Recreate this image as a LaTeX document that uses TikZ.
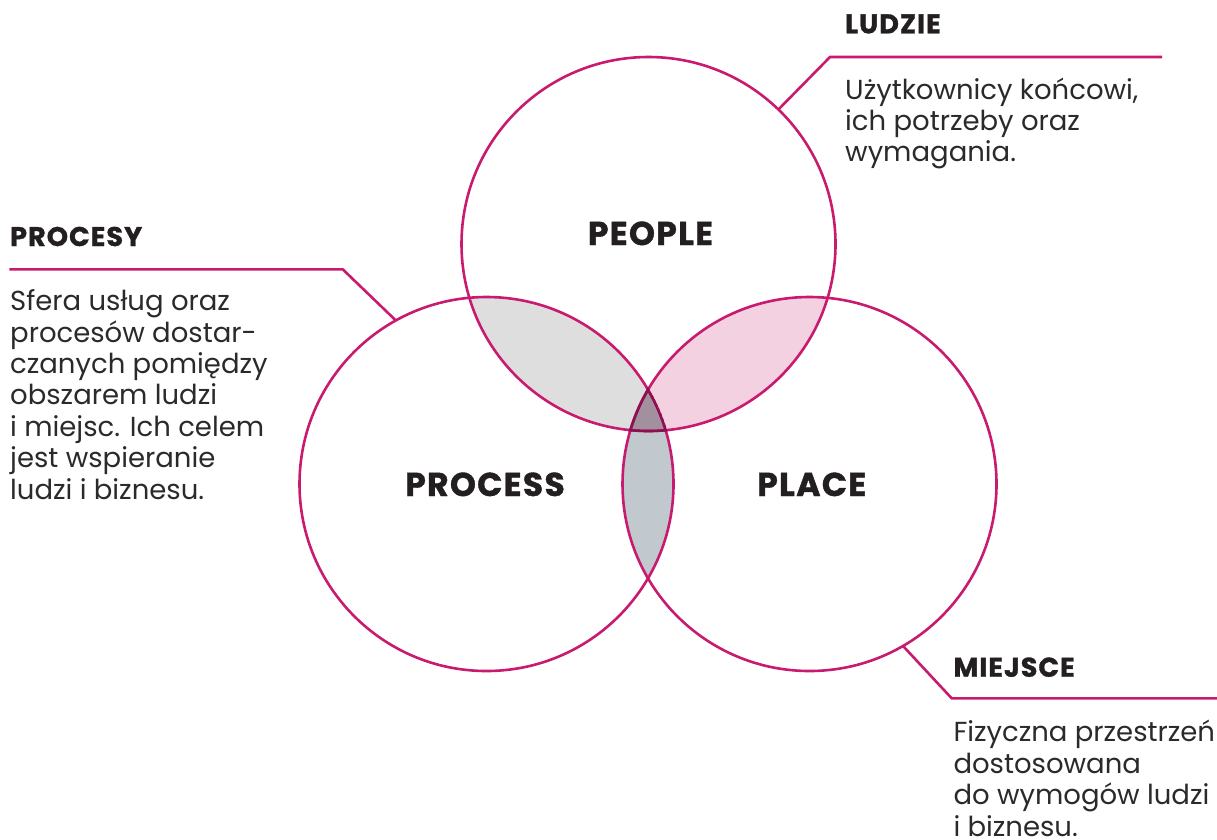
\documentclass[tikz,border=0pt]{standalone}
\usepackage{fontspec}
\setmainfont{Poppins}
\newfontfamily\heavyfont{Poppins}[BoldFeatures={FakeBold=1.2, LetterSpace=4}]
\definecolor{rim}{HTML}{C81A6E}
\definecolor{rimdark}{HTML}{8C1150}
\definecolor{inkdark}{HTML}{231F20}
\definecolor{inkbody}{HTML}{2B2A2A}
\definecolor{lensgray}{HTML}{DEDEDE}
\definecolor{lenspink}{HTML}{F3D1E0}
\definecolor{lensblue}{HTML}{C1C8CE}
\definecolor{lenscore}{HTML}{A2909E}
\begin{document}
\begin{tikzpicture}[x=1pt,y=-1pt,
  ring/.style={circle, draw=rim, line width=2.6pt, minimum size=374pt, inner sep=0pt, outer sep=0pt},
  leader/.style={draw=rim, line width=2.6pt},
  biglabel/.style={inner sep=0pt, anchor=base, text=inkdark, font=\fontsize{33}{33}\selectfont\heavyfont\bfseries},
  heading/.style={inner sep=0pt, anchor=base west, text=inkdark, font=\fontsize{27}{27}\selectfont\heavyfont\bfseries},
  bodyline/.style={inner sep=0pt, anchor=base west, text=inkbody, font=\fontsize{27.5}{27.5}\selectfont}]
\path[use as bounding box] (0,0) rectangle (1217,839);

% circle centres
\coordinate (cPeople) at (648.5,244);
\coordinate (cProcess) at (486.5,484);
\coordinate (cPlace) at (809.5,484);

% overlap fills
\begin{scope}
  \clip (cPeople) circle[radius=187pt];
  \fill[lensgray] (cProcess) circle[radius=187pt];
  \fill[lenspink] (cPlace) circle[radius=187pt];
\end{scope}
\begin{scope}
  \clip (cProcess) circle[radius=187pt];
  \fill[lensblue] (cPlace) circle[radius=187pt];
\end{scope}
\begin{scope}
  \clip (cPeople) circle[radius=187pt];
  \clip (cProcess) circle[radius=187pt];
  \fill[lenscore] (cPlace) circle[radius=187pt];
\end{scope}

% the three circles
\node[ring] (people) at (cPeople) {};
\node[ring] (process) at (cProcess) {};
\node[ring] (place) at (cPlace) {};

% darker rims inside the common core
\begin{scope}
  \clip (cPeople) circle[radius=188.3pt];
  \clip (cProcess) circle[radius=188.3pt];
  \clip (cPlace) circle[radius=188.3pt];
  \draw[rimdark, line width=2.6pt] (cPeople) circle[radius=187pt];
  \draw[rimdark, line width=2.6pt] (cProcess) circle[radius=187pt];
  \draw[rimdark, line width=2.6pt] (cPlace) circle[radius=187pt];
\end{scope}

% circle labels
\node[biglabel] (peopleLbl) at (650.5,245) {PEOPLE};
\node[biglabel] (processLbl) at (485,496) {PROCESS};
\node[biglabel] (placeLbl) at (811.7,496) {PLACE};

% leader lines
\coordinate (ludzieBend) at (830,57);
\coordinate (ludzieEnd) at (1162,57);
\draw[leader] (people.46.4) -- (ludzieBend) -- (ludzieEnd);

\coordinate (procesyBend) at (342.7,269.3);
\coordinate (procesyEnd) at (9.3,269.3);
\draw[leader] (process.119.6) -- (procesyBend) -- (procesyEnd);

\coordinate (miejsceBend) at (951.7,698.3);
\coordinate (miejsceEnd) at (1217,698.3);
\draw[leader] (place.-60.3) -- (miejsceBend) -- (miejsceEnd);

% LUDZIE
\node[heading] (ludzieHead) at (845,33.3) {LUDZIE};
\node[bodyline] (ludzie1) at (845,99.3) {Użytkownicy końcowi,};
\node[bodyline] (ludzie2) at (845,130.5) {ich potrzeby oraz};
\node[bodyline] (ludzie3) at (845,161.7) {wymagania.};

% PROCESY
\node[heading] (procesyHead) at (10,246) {PROCESY};
\node[bodyline] (procesy1) at (10,310.7) {Sfera usług oraz};
\node[bodyline] (procesy2) at (10,342.1) {procesów dostar-};
\node[bodyline] (procesy3) at (10,373.5) {czanych pomiędzy};
\node[bodyline] (procesy4) at (10,404.9) {obszarem ludzi};
\node[bodyline] (procesy5) at (10,436.3) {i miejsc. Ich celem};
\node[bodyline] (procesy6) at (10,467.7) {jest wspieranie};
\node[bodyline] (procesy7) at (10,499.1) {ludzi i biznesu.};

% MIEJSCE
\node[heading] (miejsceHead) at (953.3,676.7) {MIEJSCE};
\node[bodyline] (miejsce1) at (953.3,741.7) {Fizyczna przestrzeń};
\node[bodyline] (miejsce2) at (953.3,773) {dostosowana};
\node[bodyline] (miejsce3) at (953.3,804.5) {do wymogów ludzi};
\node[bodyline] (miejsce4) at (953.3,836) {i biznesu.};
\end{tikzpicture}
\end{document}
